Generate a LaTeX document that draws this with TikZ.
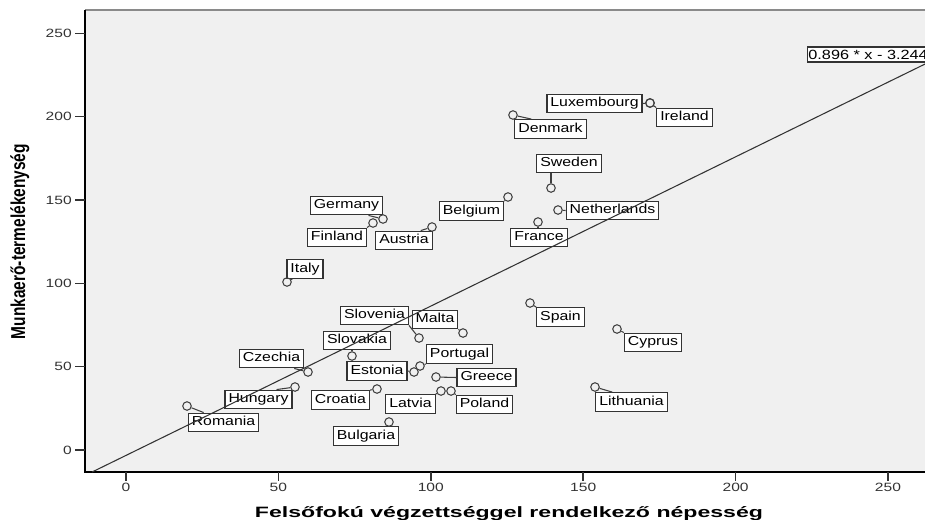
\documentclass[tikz,border=0pt]{standalone}
\usepackage{fontspec}
\setmainfont{Liberation Sans}
\newfontfamily\lblfont{Liberation Sans}[FakeStretch=1.22]
\newfontfamily\tickfont{Liberation Sans}[FakeStretch=1.3]
\newfontfamily\titlefont{Liberation Sans}
\definecolor{plotbg}{HTML}{F0F0F0}
\definecolor{boxc}{HTML}{333333}
\definecolor{ptc}{HTML}{404040}
\definecolor{topc}{HTML}{8A8A8A}
\tikzset{
  lbl/.style={draw=boxc, fill=white, line width=0.9pt,
    font=\lblfont\fontsize{9.75pt}{11pt}\selectfont,
    inner xsep=2.6pt, inner ysep=0pt, minimum height=14pt,
    text height=7.2pt, text depth=2pt},
  eqlbl/.style={draw=boxc, fill=white, line width=0.9pt,
    font=\lblfont\fontsize{10pt}{11pt}\selectfont,
    inner xsep=0.6pt, inner ysep=0pt, minimum height=11.2pt,
    text height=7.2pt, text depth=0.4pt, anchor=west},
  datapt/.style={circle, draw=ptc, line width=0.8pt, minimum size=6.4pt, inner sep=0pt},
  lead/.style={draw=ptc, line width=0.8pt},
  tickmk/.style={draw=boxc, line width=1.1pt},
  ticklbl/.style={font=\tickfont\fontsize{9pt}{10pt}\selectfont, text=boxc, inner sep=0pt},
  regline/.style={draw=boxc, line width=0.8pt},
}
\begin{document}
\begin{tikzpicture}[x=0.75pt,y=-0.75pt]
\useasboundingbox (0,0) rectangle (925,519);
\clip (0,0) rectangle (925,519);
\fill[white] (0,0) rectangle (925,519);
% plot area
\fill[plotbg] (85,10) rectangle (930,472);
\draw[topc, line width=1.4pt] (85,10) -- (930,10);
\draw[black, line width=1.5pt] (85,9.5) -- (85,472) -- (930,472);
% y ticks
\foreach \v/\yy in {0/450,50/366.7,100/283.3,150/200,200/116.7,250/33.3}{
  \draw[tickmk] (75,\yy) -- (85,\yy);
  \node[ticklbl, anchor=east] (yt\v) at (72,\yy) {\v};
}
% x ticks
\foreach \v/\xx in {0/126,50/278.4,100/430.8,150/583.2,200/735.6,250/888}{
  \draw[tickmk] (\xx,472) -- (\xx,481);
  \node[ticklbl, anchor=north] (xt\v) at (\xx,482.5) {\v};
}
% axis titles
\node[rotate=90, inner sep=0pt] (ytitle) at (20,241.5)
  {\scalebox{1}[1.3]{\titlefont\bfseries\fontsize{11.6pt}{12pt}\selectfont Munkaerő-termelékenység}};
\node[anchor=base, inner sep=0pt] (xtitle) at (509,517)
  {\resizebox{381pt}{\height}{\titlefont\bfseries\fontsize{11.25pt}{12pt}\selectfont Felsőfokú végzettséggel rendelkező népesség}};
% labels
\node[lbl] (l-lux) at (594.5,103.5) {Luxembourg};
\node[lbl] (l-ire) at (684.5,117.5) {Ireland};
\node[lbl] (l-den) at (550.5,129) {Denmark};
\node[lbl] (l-swe) at (569,163.5) {Sweden};
\node[lbl] (l-bel) at (471.5,211) {Belgium};
\node[lbl] (l-net) at (612.5,210.5) {Netherlands};
\node[lbl] (l-fra) at (539,237.5) {France};
\node[lbl] (l-ger) at (346.5,205.5) {Germany};
\node[lbl] (l-fin) at (337,237.5) {Finland};
\node[lbl] (l-aut) at (404,240.5) {Austria};
\node[lbl] (l-ita) at (305,269) {Italy};
\node[lbl] (l-slo) at (374.5,315.5) {Slovenia};
\node[lbl] (l-mal) at (435,319.5) {Malta};
\node[lbl] (l-svk) at (357,340.5) {Slovakia};
\node[lbl] (l-cze) at (271.5,358.5) {Czechia};
\node[lbl] (l-hun) at (258.5,399.5) {Hungary};
\node[lbl] (l-rom) at (223.5,422.5) {Romania};
\node[lbl] (l-est) at (377,371) {Estonia};
\node[lbl] (l-por) at (459.5,354) {Portugal};
\node[lbl] (l-gre) at (486.5,377.5) {Greece};
\node[lbl] (l-lat) at (410.5,404) {Latvia};
\node[lbl] (l-pol) at (484.5,404.5) {Poland};
\node[lbl] (l-cro) at (340.5,400) {Croatia};
\node[lbl] (l-bul) at (366,436) {Bulgaria};
\node[lbl] (l-spa) at (560.5,317) {Spain};
\node[lbl] (l-cyp) at (653,342.5) {Cyprus};
\node[lbl] (l-lit) at (631.5,402) {Lithuania};
\node[eqlbl] (l-eq) at (807,54.5) {0.896 * x - 3.244};
% data points
\node[datapt] (c-lux) at (650,103) {};
\node[datapt] (c-ire) at (650,103) {};
\node[datapt] (c-den) at (513,115) {};
\node[datapt] (c-swe) at (551,188) {};
\node[datapt] (c-bel) at (508,197) {};
\node[datapt] (c-net) at (558,210) {};
\node[datapt] (c-fra) at (538,222) {};
\node[datapt] (c-ger) at (383,219) {};
\node[datapt] (c-fin) at (373,223) {};
\node[datapt] (c-aut) at (432,227) {};
\node[datapt] (c-ita) at (287,282) {};
\node[datapt] (c-spa) at (530,303) {};
\node[datapt] (c-cyp) at (617,329) {};
\node[datapt] (c-mal) at (463,333) {};
\node[datapt] (c-slo) at (419,338) {};
\node[datapt] (c-svk) at (352,356) {};
\node[datapt] (c-cze) at (308,372) {};
\node[datapt] (c-por) at (420,366) {};
\node[datapt] (c-est) at (414,372) {};
\node[datapt] (c-gre) at (436,377) {};
\node[datapt] (c-hun) at (295,387) {};
\node[datapt] (c-cro) at (377,389) {};
\node[datapt] (c-lat) at (441,391) {};
\node[datapt] (c-pol) at (451,391) {};
\node[datapt] (c-lit) at (595,387) {};
\node[datapt] (c-rom) at (187,406) {};
\node[datapt] (c-bul) at (389,422) {};
% leaders
\draw[lead] (c-lux) -- (l-lux.east);
\draw[lead] (c-ire) -- (l-ire.north west);
\draw[lead] (c-den) -- ([xshift=12.75pt]l-den.north west);
\draw[lead] (c-swe) -- (c-swe |- l-swe.south);
\draw[lead] (c-bel) -- (l-bel.north east);
\draw[lead] (c-net) -- (l-net.west);
\draw[lead] (c-fra) -- (c-fra |- l-fra.north);
\draw[lead] (c-ger) -- ([xshift=-11pt]l-ger.south east);
\draw[lead] (c-fin) -- (l-fin.north east);
\draw[lead] (c-aut) -- ([xshift=-9pt]l-aut.north east);
\draw[lead] (c-ita) -- ([xshift=4.5pt]l-ita.south west);
\draw[lead] (c-spa) -- (l-spa.north west);
\draw[lead] (c-cyp) -- (l-cyp.north west);
\draw[lead] (c-mal) -- (l-mal.south east);
\draw[lead] (c-slo) -- (l-slo.south east);
\draw[lead] (c-svk) -- (c-svk |- l-svk.south);
\draw[lead] (c-cze) -- ([xshift=-7.5pt]l-cze.south east);
\draw[lead] (c-hun) -- ([xshift=-12pt]l-hun.north east);
\draw[lead] (c-rom) -- ([xshift=12pt]l-rom.north west);
\draw[lead] (c-est) -- (l-est.east);
\draw[lead] (c-por) -- (l-por.south west);
\draw[lead] (c-gre) -- (l-gre.west);
\draw[lead] (c-lat) -- (l-lat.north east);
\draw[lead] (c-pol) -- (l-pol.north west);
\draw[lead] (c-cro) -- (l-cro.north east);
\draw[lead] (c-bul) -- (c-bul |- l-bul.north);
\draw[lead] (c-lit) -- ([xshift=12.75pt]l-lit.north west);
% regression line
\draw[regline] (92.1,472) -- (930,61.6);
\end{tikzpicture}
\end{document}
